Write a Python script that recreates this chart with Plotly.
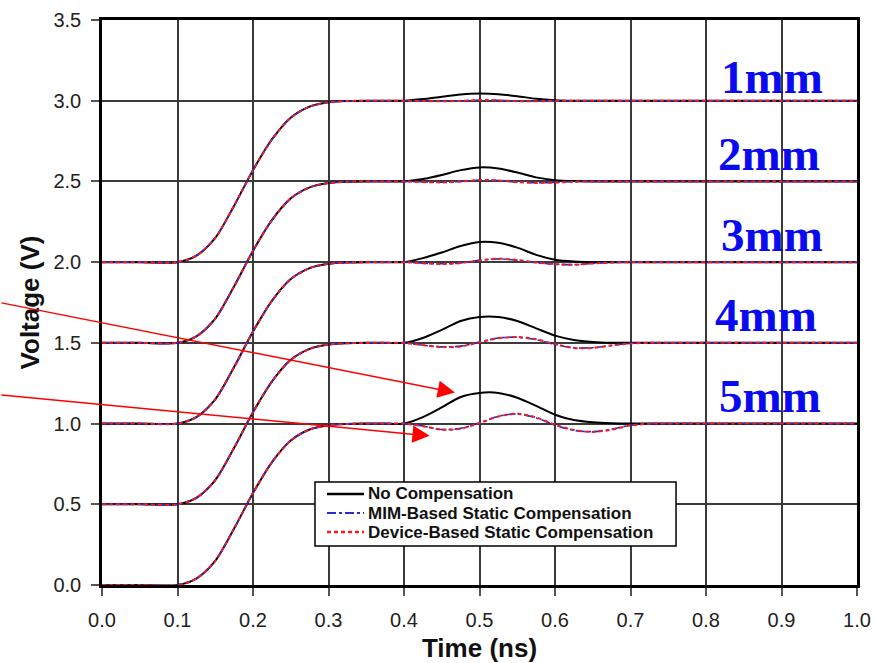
import plotly.graph_objects as go

# Time axis samples (ns)
time_ns = [0.0, 0.05, 0.1, 0.125, 0.15, 0.175, 0.2, 0.225, 0.25, 0.275, 0.3, 0.325, 0.35, 0.375,
           0.4, 0.425, 0.45, 0.475, 0.5, 0.525, 0.55, 0.575, 0.6, 0.625, 0.65, 0.675, 0.7, 0.725,
           0.75, 0.8, 0.9, 1.0]

# 1mm
v1_none = [2.0, 2.0, 2.0, 2.04, 2.15, 2.35, 2.57, 2.76, 2.895, 2.963, 2.99, 2.998, 3.0, 3.0,
           3.0, 3.01, 3.025, 3.038, 3.044, 3.04, 3.028, 3.012, 3.003, 3.0, 3.0, 3.0, 3.0, 3.0,
           3.0, 3.0, 3.0, 3.0]
v1_mim = [2.0, 2.0, 2.0, 2.04, 2.15, 2.35, 2.57, 2.76, 2.895, 2.963, 2.99, 2.998, 3.0, 3.0,
          3.0, 2.999, 2.997, 2.999, 3.003, 3.002, 2.998, 2.997, 2.999, 3.0, 3.0, 3.0, 3.0, 3.0,
          3.0, 3.0, 3.0, 3.0]
v1_dev = [2.0, 2.0, 2.0, 2.04, 2.15, 2.35, 2.57, 2.76, 2.895, 2.963, 2.99, 2.998, 3.0, 3.0,
          3.0, 2.998, 2.996, 2.999, 3.004, 3.002, 2.997, 2.996, 2.999, 3.0, 3.0, 3.0, 3.0, 3.0,
          3.0, 3.0, 3.0, 3.0]

# 2mm
v2_none = [1.5, 1.5, 1.5, 1.54, 1.65, 1.85, 2.07, 2.26, 2.395, 2.463, 2.49, 2.498, 2.5, 2.5,
           2.5, 2.515, 2.54, 2.57, 2.587, 2.58, 2.555, 2.525, 2.508, 2.502, 2.5, 2.5, 2.5, 2.5,
           2.5, 2.5, 2.5, 2.5]
v2_mim = [1.5, 1.5, 1.5, 1.54, 1.65, 1.85, 2.07, 2.26, 2.395, 2.463, 2.49, 2.498, 2.5, 2.5,
          2.5, 2.497, 2.495, 2.5, 2.508, 2.505, 2.497, 2.492, 2.494, 2.498, 2.5, 2.5, 2.5, 2.5,
          2.5, 2.5, 2.5, 2.5]
v2_dev = [1.5, 1.5, 1.5, 1.54, 1.65, 1.85, 2.07, 2.26, 2.395, 2.463, 2.49, 2.498, 2.5, 2.5,
          2.5, 2.496, 2.494, 2.499, 2.509, 2.506, 2.496, 2.491, 2.493, 2.498, 2.5, 2.5, 2.5, 2.5,
          2.5, 2.5, 2.5, 2.5]

# 3mm
v3_none = [1.0, 1.0, 1.0, 1.04, 1.15, 1.35, 1.57, 1.76, 1.895, 1.963, 1.99, 1.998, 2.0, 2.0,
           2.0, 2.025, 2.06, 2.10, 2.125, 2.12, 2.09, 2.045, 2.015, 2.004, 2.0, 2.0, 2.0, 2.0,
           2.0, 2.0, 2.0, 2.0]
v3_mim = [1.0, 1.0, 1.0, 1.04, 1.15, 1.35, 1.57, 1.76, 1.895, 1.963, 1.99, 1.998, 2.0, 2.0,
          2.0, 1.994, 1.99, 1.995, 2.012, 2.02, 2.012, 1.997, 1.988, 1.985, 1.992, 1.998, 2.0, 2.0,
          2.0, 2.0, 2.0, 2.0]
v3_dev = [1.0, 1.0, 1.0, 1.04, 1.15, 1.35, 1.57, 1.76, 1.895, 1.963, 1.99, 1.998, 2.0, 2.0,
          2.0, 1.993, 1.989, 1.994, 2.011, 2.021, 2.013, 1.998, 1.987, 1.984, 1.991, 1.998, 2.0, 2.0,
          2.0, 2.0, 2.0, 2.0]

# 4mm
v4_none = [0.5, 0.5, 0.5, 0.54, 0.65, 0.85, 1.07, 1.26, 1.395, 1.463, 1.49, 1.498, 1.5, 1.5,
           1.5, 1.53, 1.58, 1.635, 1.66, 1.66, 1.635, 1.59, 1.545, 1.518, 1.506, 1.501, 1.5, 1.5,
           1.5, 1.5, 1.5, 1.5]
v4_mim = [0.5, 0.5, 0.5, 0.54, 0.65, 0.85, 1.07, 1.26, 1.395, 1.463, 1.49, 1.498, 1.5, 1.5,
          1.5, 1.485, 1.475, 1.48, 1.505, 1.53, 1.535, 1.52, 1.49, 1.47, 1.47, 1.485, 1.497, 1.5,
          1.5, 1.5, 1.5, 1.5]
v4_dev = [0.5, 0.5, 0.5, 0.54, 0.65, 0.85, 1.07, 1.26, 1.395, 1.463, 1.49, 1.498, 1.5, 1.5,
          1.5, 1.486, 1.474, 1.478, 1.503, 1.529, 1.536, 1.522, 1.492, 1.468, 1.468, 1.484, 1.496, 1.5,
          1.5, 1.5, 1.5, 1.5]

# 5mm
v5_none = [0.0, 0.0, 0.0, 0.04, 0.15, 0.35, 0.57, 0.76, 0.895, 0.963, 0.99, 0.998, 1.0, 1.0,
           1.0, 1.04, 1.10, 1.165, 1.19, 1.19, 1.16, 1.11, 1.055, 1.022, 1.008, 1.002, 1.0, 1.0,
           1.0, 1.0, 1.0, 1.0]
v5_mim = [0.0, 0.0, 0.0, 0.04, 0.15, 0.35, 0.57, 0.76, 0.895, 0.963, 0.99, 0.998, 1.0, 1.0,
          1.0, 0.985, 0.963, 0.97, 1.005, 1.045, 1.06, 1.035, 0.99, 0.958, 0.95, 0.965, 0.99, 1.0,
          1.0, 1.0, 1.0, 1.0]
v5_dev = [0.0, 0.0, 0.0, 0.04, 0.15, 0.35, 0.57, 0.76, 0.895, 0.963, 0.99, 0.998, 1.0, 1.0,
          1.0, 0.984, 0.962, 0.968, 1.003, 1.044, 1.061, 1.038, 0.993, 0.96, 0.948, 0.962, 0.988, 0.999,
          1.0, 1.0, 1.0, 1.0]

length_labels = ["1mm", "2mm", "3mm", "4mm", "5mm"]
label_x = [0.887, 0.884, 0.887, 0.88, 0.885]
label_y = [3.15, 2.67, 2.17, 1.675, 1.17]

legend_names = ["No Compensation", "MIM-Based Static Compensation", "Device-Based Static Compensation"]

x_ticks = [0.0, 0.1, 0.2, 0.3, 0.4, 0.5, 0.6, 0.7, 0.8, 0.9, 1.0]
y_ticks = [0.0, 0.5, 1.0, 1.5, 2.0, 2.5, 3.0, 3.5]

series_none = [v1_none, v2_none, v3_none, v4_none, v5_none]
series_mim = [v1_mim, v2_mim, v3_mim, v4_mim, v5_mim]
series_dev = [v1_dev, v2_dev, v3_dev, v4_dev, v5_dev]

styles = [dict(color="black", width=2, dash="solid"),
          dict(color="#2a2ad0", width=1.6, dash="dashdot"),
          dict(color="#ee1c24", width=2, dash="4px,3px")]

fig = go.Figure()
for group, style, name in zip([series_none, series_mim, series_dev], styles, legend_names):
    for ys in group:
        fig.add_trace(go.Scatter(x=time_ns, y=ys, mode="lines", name=name, showlegend=False,
                                 line=dict(shape="spline", smoothing=0.8, **style)))

annotations = []
for t, lx, ly in zip(length_labels, label_x, label_y):
    annotations.append(dict(x=lx, y=ly, xref="x", yref="y", text="<b>" + t + "</b>", showarrow=False,
                            font=dict(family="Liberation Serif, Times New Roman, serif", size=47, color="#0a0af0")))

# red arrows
annotations.append(dict(x=0.4675, y=1.192, xref="x", yref="y", text="", showarrow=True,
                        ax=-463, ay=-90, arrowhead=2, arrowsize=2.3, arrowwidth=1.5, arrowcolor="#ff0000"))
annotations.append(dict(x=0.434, y=0.924, xref="x", yref="y", text="", showarrow=True,
                        ax=-438, ay=-41, arrowhead=2, arrowsize=2.3, arrowwidth=1.5, arrowcolor="#ff0000"))

# legend box (paper coordinates of the plot area)
shapes = [dict(type="rect", xref="paper", yref="paper", x0=0.2821, x1=0.7603, y0=0.0690, y1=0.1823,
               fillcolor="white", line=dict(color="black", width=1.5), layer="above")]
leg_rows = [0.1611, 0.1274, 0.0938]
for style, name, ry in zip(styles, legend_names, leg_rows):
    shapes.append(dict(type="line", xref="paper", yref="paper", x0=0.2980, x1=0.3470, y0=ry, y1=ry,
                       line=dict(color=style["color"], width=style["width"] + 0.3, dash=style["dash"]),
                       layer="above"))
    annotations.append(dict(x=0.3510, y=ry, xref="paper", yref="paper", xanchor="left", yanchor="middle",
                            text="<b>" + name + "</b>", showarrow=False, borderpad=0,
                            font=dict(family="Liberation Sans, Arial, sans-serif", size=17, color="#111")))

axis_common = dict(showline=True, linecolor="black", linewidth=2.5, mirror=True,
                   showgrid=True, gridcolor="#3a3a3a", gridwidth=1.5, zeroline=False,
                   ticks="outside", ticklen=8, tickcolor="#555", tickwidth=1.5, automargin=False,
                   tickfont=dict(family="Liberation Sans, Arial, sans-serif", size=20, color="#222"))

fig.update_layout(
    width=875, height=663,
    margin=dict(l=102, r=18, t=20, b=78),
    paper_bgcolor="white", plot_bgcolor="white",
    xaxis=dict(range=[0, 1.0], tickvals=x_ticks, tickformat=".1f", ticklabelstandoff=7,
               title=dict(text="<b>Time (ns)</b>", standoff=15,
                          font=dict(family="Liberation Sans, Arial, sans-serif", size=26, color="#111")),
               **axis_common),
    yaxis=dict(range=[0, 3.5], tickvals=y_ticks, tickformat=".1f", ticklabelstandoff=6,
               title=dict(text="<b>Voltage (V)</b>", standoff=7,
                          font=dict(family="Liberation Sans, Arial, sans-serif", size=26, color="#111")),
               **axis_common),
    annotations=annotations,
    shapes=shapes,
    showlegend=False,
)

# remove the default page margin so the 875x663 figure fills the window exactly
fig.write_html("out.html", config={"displayModeBar": False},
               post_script="document.body.style.margin='0';document.body.style.overflow='hidden';")
